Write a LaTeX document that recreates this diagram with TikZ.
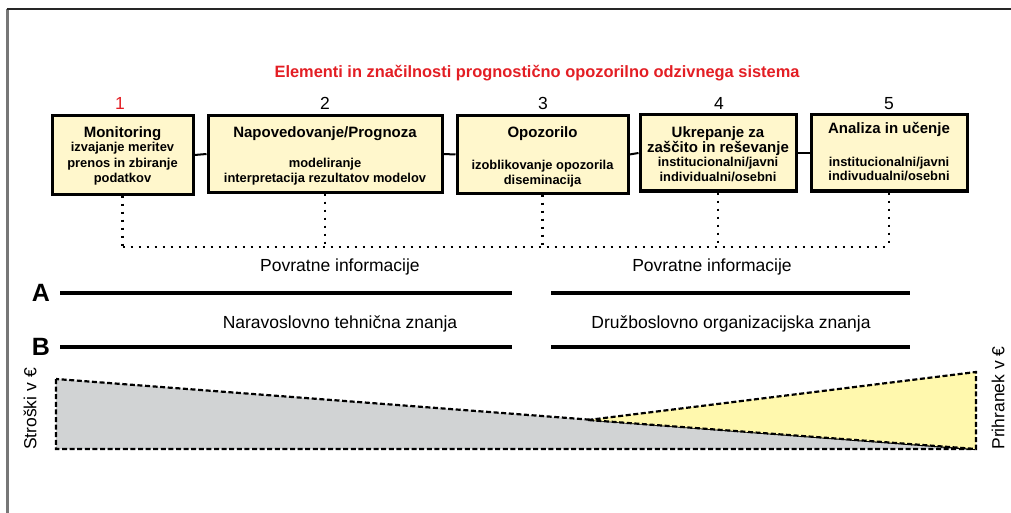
\documentclass[tikz,border=0pt]{standalone}
\usepackage{fontspec}
\setmainfont{Liberation Sans}
\definecolor{boxfill}{HTML}{FFF7CC}
\definecolor{titlered}{HTML}{E31E24}
\definecolor{costgray}{HTML}{D1D3D4}
\definecolor{gainyellow}{HTML}{FFF8AD}
\definecolor{framegray}{HTML}{777777}
\tikzset{
  stepbox/.style={draw=black, line width=3pt, fill=boxfill, inner sep=0pt},
  link/.style={draw=black, line width=2pt},
  fback/.style={draw=black, line width=2.3pt, dash pattern=on 2.3pt off 5.7pt},
  bar/.style={draw=black, line width=4.5pt},
  area/.style={draw=black, line width=2.2pt, dash pattern=on 5pt off 2.6pt, line join=miter},
  head/.style={font=\fontsize{15}{18}\selectfont\bfseries, inner sep=0pt, text height=10.8pt, text depth=0pt},
  sub/.style={font=\fontsize{12.9}{15}\selectfont\bfseries, inner sep=0pt, text height=9.3pt, text depth=0pt},
  lbl/.style={font=\fontsize{17.5}{21}\selectfont, inner sep=0pt, text height=12.6pt, text depth=0pt},
  ttl/.style={font=\fontsize{16.4}{20}\selectfont\bfseries, text=titlered, inner sep=0pt, text height=11.8pt, text depth=0pt},
  big/.style={font=\fontsize{25}{30}\selectfont\bfseries, inner sep=0pt, text height=18pt, text depth=0pt},
}
\begin{document}
\begin{tikzpicture}[x=1pt, y=-1pt]
\useasboundingbox (0,0) rectangle (1011,513);
% frame
\draw[framegray, line width=2.5pt] (7.5,9) -- (7.5,513);
\draw[black!85, line width=2pt] (6.5,9) -- (1011,9);

% title and numbers
\node[ttl] (title) at (537,72) {Elementi in značilnosti prognostično opozorilno odzivnega sistema};
\node[lbl, text=titlered] (n1) at (120,103) {1};
\node[lbl] (n2) at (325,103) {2};
\node[lbl] (n3) at (543,103) {3};
\node[lbl] (n4) at (719,103) {4};
\node[lbl] (n5) at (889,103) {5};

% boxes
\node[stepbox, minimum width=141pt, minimum height=78pt] (b1) at (122.5,155) {};
\node[stepbox, minimum width=234pt, minimum height=76pt] (b2) at (325,154) {};
\node[stepbox, minimum width=171pt, minimum height=77pt] (b3) at (542.5,154.5) {};
\node[stepbox, minimum width=156pt, minimum height=76pt] (b4) at (718,153) {};
\node[stepbox, minimum width=156pt, minimum height=76pt] (b5) at (889,153) {};

\draw[link] (b1.east) -- (b2.west);
\draw[link] (b2.east) -- (b3.west);
\draw[link] (b3.east) -- (b4.west);
\draw[link] (b4.east) -- (b5.west);

% box texts
\node[head] (t1a) at (122.5,132) {Monitoring};
\node[sub] (t1b) at (122.5,147) {izvajanje meritev};
\node[sub] (t1c) at (122.5,163) {prenos in zbiranje};
\node[sub] (t1d) at (122.5,178) {podatkov};

\node[head] (t2a) at (325,132) {Napovedovanje/Prognoza};
\node[sub] (t2b) at (325,163) {modeliranje};
\node[sub] (t2c) at (325,178) {interpretacija rezultatov modelov};

\node[head] (t3a) at (542.5,132) {Opozorilo};
\node[sub] (t3b) at (542.5,165) {izoblikovanje opozorila};
\node[sub] (t3c) at (542.5,180) {diseminacija};

\node[head] (t4a) at (718,132) {Ukrepanje za};
\node[head] (t4b) at (718,147) {zaščito in reševanje};
\node[sub] (t4c) at (718,162) {institucionalni/javni};
\node[sub] (t4d) at (718,177) {individualni/osebni};

\node[head] (t5a) at (889,128) {Analiza in učenje};
\node[sub] (t5b) at (889,162) {institucionalni/javni};
\node[sub] (t5c) at (889,176) {indivudualni/osebni};

% feedback dotted lines
\coordinate (f1) at (122.5,247);
\coordinate (f2) at (325,247);
\coordinate (f3) at (542.5,247);
\coordinate (f4) at (718,247);
\coordinate (f5) at (889,247);
\draw[fback] (b1.south) -- (f1);
\draw[fback] (b2.south) -- (f2);
\draw[fback] (b3.south) -- (f3);
\draw[fback] (b4.south) -- (f4);
\draw[fback] (b5.south) -- (f5);
\draw[fback] (f1) -- (f5);

\node[lbl] (pi1) at (340,265) {Povratne informacije};
\node[lbl] (pi2) at (712,265) {Povratne informacije};

% A and B bars
\node[big] (A) at (41,292) {A};
\node[big] (B) at (41,346) {B};
\coordinate (a1s) at (60,293);  \coordinate (a1e) at (512,293);
\coordinate (a2s) at (551,293); \coordinate (a2e) at (910,293);
\coordinate (b1s) at (60,347);  \coordinate (b1e) at (512,347);
\coordinate (b2s) at (551,347); \coordinate (b2e) at (910,347);
\draw[bar] (a1s) -- (a1e);
\draw[bar] (a2s) -- (a2e);
\draw[bar] (b1s) -- (b1e);
\draw[bar] (b2s) -- (b2e);
\node[lbl] (nt) at (340,322) {Naravoslovno tehnična znanja};
\node[lbl] (do) at (731,322) {Družboslovno organizacijska znanja};

% cost / saving areas
\coordinate (g1) at (56,379);
\coordinate (g2) at (56,449);
\coordinate (g3) at (975,449);
\coordinate (y1) at (588,420);
\coordinate (y2) at (976,372);
\coordinate (y3) at (976,449);
\filldraw[area, fill=costgray] (g1) -- (g2) -- (g3) -- cycle;
\filldraw[area, fill=gainyellow] (y1) -- (y2) -- (y3) -- cycle;

\node[lbl, rotate=90] (cost) at (30,409) {Stroški v €};
\node[lbl, rotate=90] (gain) at (998,398) {Prihranek v €};
\end{tikzpicture}
\end{document}
